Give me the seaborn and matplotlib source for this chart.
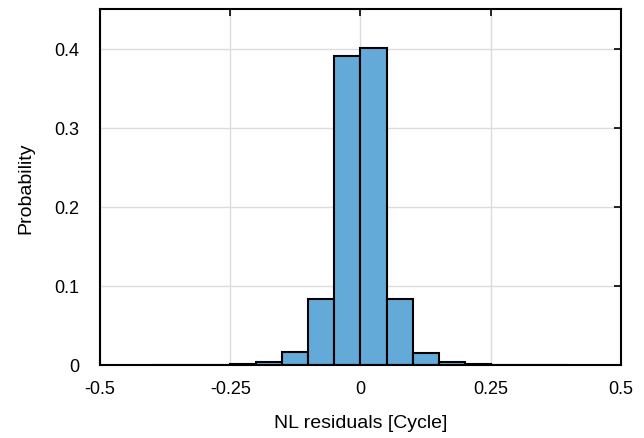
import numpy as np
import pandas as pd
import matplotlib
matplotlib.use("Agg")
import matplotlib.pyplot as plt
import seaborn as sns

# Data: bin centers and probabilities, bin width 0.05
bin_edges = [-0.40, -0.35, -0.30, -0.25, -0.20, -0.15, -0.10, -0.05, 0.0,
             0.05, 0.10, 0.15, 0.20, 0.25, 0.30, 0.35, 0.40]
bin_centers = [-0.375, -0.325, -0.275, -0.225, -0.175, -0.125, -0.075, -0.025,
               0.025, 0.075, 0.125, 0.175, 0.225, 0.275, 0.325, 0.375]
probability = [0.0002, 0.0003, 0.0005, 0.0012, 0.004, 0.017, 0.084, 0.390,
               0.401, 0.083, 0.015, 0.0035, 0.0012, 0.0005, 0.0003, 0.0002]
x_ticks = [-0.5, -0.25, 0, 0.25, 0.5]
x_tick_labels = ["-0.5", "-0.25", "0", "0.25", "0.5"]
y_ticks = [0, 0.1, 0.2, 0.3, 0.4]
y_tick_labels = ["0", "0.1", "0.2", "0.3", "0.4"]

sns.set_style("white")
plt.rcParams['font.family'] = ['Liberation Sans', 'DejaVu Sans']

df = pd.DataFrame({"x": bin_centers, "p": probability})

fig = plt.figure(figsize=(6.44, 4.39), dpi=100)
ax = fig.add_axes([100/644, 73/439, 521/644, 356/439])

sns.histplot(data=df, x="x", weights="p", bins=bin_edges, stat="count",
             color="#64AAD8", alpha=1.0, edgecolor="black", linewidth=1.5, ax=ax)

ax.set_xlim(-0.5, 0.5)
ax.set_ylim(0, 0.45)
ax.set_xticks(x_ticks)
ax.set_xticklabels(x_tick_labels)
ax.set_yticks(y_ticks)
ax.set_yticklabels(y_tick_labels)
ax.grid(True, color="#dcdcdc", linewidth=1.0)
ax.set_axisbelow(True)
ax.tick_params(direction="in", top=True, right=True, length=5, width=1.2,
               labelsize=13, colors="black")
ax.tick_params(axis="x", pad=11)
ax.tick_params(axis="y", pad=15)
for s in ax.spines.values():
    s.set_linewidth(1.5)
    s.set_color("black")
ax.set_xlabel("NL residuals [Cycle]", fontsize=14, labelpad=12, color="black")
ax.set_ylabel("Probability", fontsize=14, labelpad=14, color="black")

fig.savefig("out.png", dpi=100)
